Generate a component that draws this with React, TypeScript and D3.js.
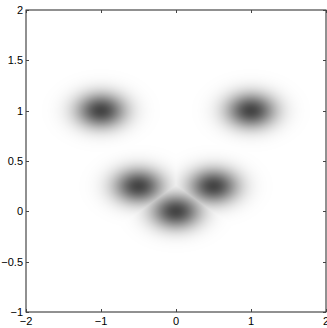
import React, { useEffect, useRef } from "react";
import * as d3 from "d3";

const blobX = [-1, 1, -0.5, 0.5, 0];
const blobY = [1, 1, 0.25, 0.25, 0];
const sigmaX = [0.23, 0.23, 0.23, 0.23, 0.23];
const sigmaY = [0.12, 0.12, 0.12, 0.12, 0.12];
const xTicks = [-2, -1, 0, 1, 2];
const yTicks = [-1, -0.5, 0, 0.5, 1, 1.5, 2];

const W = 327, H = 328;
const L = 26, R = 326, T = 10, B = 312;

export default function App() {
  const ref = useRef<SVGSVGElement>(null);
  useEffect(() => {
    const svg = d3.select(ref.current);
    svg.selectAll("*").remove();
    const x = d3.scaleLinear().domain([-2, 2]).range([L, R]);
    const y = d3.scaleLinear().domain([-1, 2]).range([B, T]);
    const color = d3.scaleLinear<string>().domain([0, 1]).range(["#ffffff", "#454545"]);

    const cw = R - L, ch = B - T;
    const canvas = document.createElement("canvas");
    canvas.width = cw; canvas.height = ch;
    const ctx = canvas.getContext("2d")!;
    const img = ctx.createImageData(cw, ch);
    for (let j = 0; j < ch; j++) {
      const yv = y.invert(T + j + 0.5);
      for (let i = 0; i < cw; i++) {
        const xv = x.invert(L + i + 0.5);
        let v = 0;
        for (let k = 0; k < blobX.length; k++) {
          const dx = (xv - blobX[k]) / sigmaX[k];
          const dy = (yv - blobY[k]) / sigmaY[k];
          v = Math.max(v, Math.exp(-(dx * dx + dy * dy) / 2));
        }
        const c = d3.rgb(color(v));
        const p = (j * cw + i) * 4;
        img.data[p] = c.r; img.data[p + 1] = c.g; img.data[p + 2] = c.b; img.data[p + 3] = 255;
      }
    }
    ctx.putImageData(img, 0, 0);
    svg.append("image")
      .attr("x", L).attr("y", T).attr("width", cw).attr("height", ch)
      .attr("preserveAspectRatio", "none")
      .attr("href", canvas.toDataURL());

    const g = svg.append("g");
    g.append("rect").attr("x", L).attr("y", T).attr("width", R - L).attr("height", B - T)
      .attr("fill", "none").attr("stroke", "#222").attr("stroke-width", 1);

    const tl = 3;
    const font = "Liberation Sans, Arial, Helvetica, sans-serif";
    xTicks.forEach((t) => {
      const px = Math.round(x(t)) + 0.5;
      g.append("line").attr("x1", px).attr("x2", px).attr("y1", B).attr("y2", B - tl).attr("stroke", "#444");
      g.append("line").attr("x1", px).attr("x2", px).attr("y1", T).attr("y2", T + tl).attr("stroke", "#444");
      g.append("text").attr("x", x(t)).attr("y", B + 13).attr("text-anchor", "middle")
        .attr("font-family", font).attr("font-size", 11).text(d3.format("")(t));
    });
    yTicks.forEach((t) => {
      const py = Math.round(y(t)) + 0.5;
      g.append("line").attr("x1", L).attr("x2", L + tl).attr("y1", py).attr("y2", py).attr("stroke", "#444");
      g.append("line").attr("x1", R).attr("x2", R - tl).attr("y1", py).attr("y2", py).attr("stroke", "#444");
      g.append("text").attr("x", L - 3).attr("y", y(t) + 4).attr("text-anchor", "end")
        .attr("font-family", font).attr("font-size", 11).text(d3.format("")(t));
    });
  }, []);
  return (
    <svg ref={ref} width={W} height={H} style={{ position: "absolute", left: 0, top: 0, background: "#fff" }} />
  );
}
